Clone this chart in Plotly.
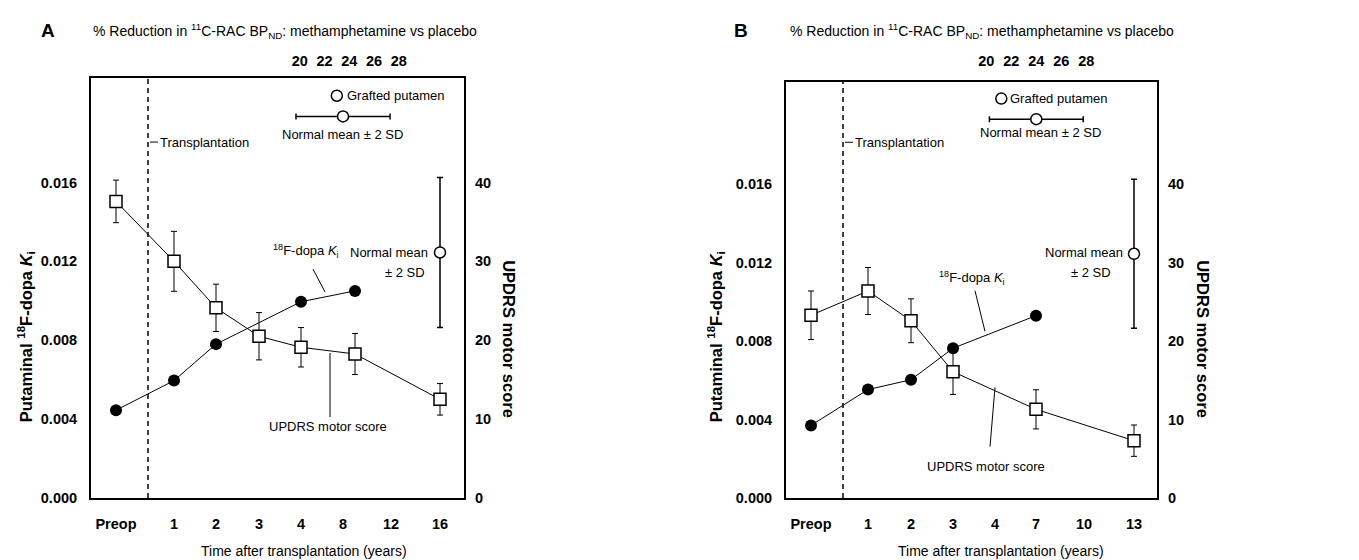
import numpy as np
import plotly.graph_objects as go

# ---------------- data ----------------
# Panel A
a_tick_labels = ["Preop", "1", "2", "3", "4", "8", "12", "16"]
a_tick_years = [-1, 1, 2, 3, 4, 8, 12, 16]
a_ki_years = [-1, 1, 2, 4, 9]
a_ki = [0.00445, 0.00595, 0.0078, 0.00995, 0.0105]
a_updrs_years = [-1, 1, 2, 3, 4, 9, 16]
a_updrs = [37.6, 30.0, 24.1, 20.5, 19.1, 18.25, 12.5]
a_updrs_err = [2.7, 3.8, 3.0, 3.0, 2.5, 2.6, 2.0]
a_normal_ki_year = 16
a_normal_ki = 0.01245
a_normal_ki_err = 0.0038
a_grafted_rac = 23.0
a_normal_rac = 23.5
a_normal_rac_err = 3.8

# Panel B
b_tick_labels = ["Preop", "1", "2", "3", "4", "7", "10", "13"]
b_tick_years = [-1, 1, 2, 3, 4, 7, 10, 13]
b_ki_years = [-1, 1, 2, 3, 7]
b_ki = [0.0037, 0.00553, 0.00603, 0.00764, 0.0093]
b_updrs_years = [-1, 1, 2, 3, 7, 13]
b_updrs = [23.3, 26.4, 22.6, 16.1, 11.3, 7.3]
b_updrs_err = [3.1, 3.0, 2.8, 2.9, 2.5, 2.0]
b_normal_ki_year = 13
b_normal_ki = 0.01246
b_normal_ki_err = 0.0038
b_grafted_rac = 21.2
b_normal_rac = 24.0
b_normal_rac_err = 3.75

rac_ticks = [20, 22, 24, 26, 28]

# ---------------- layout constants ----------------
W, H = 1359, 560
FONT = "Liberation Sans, Arial, Helvetica, sans-serif"

panels = [
    dict(key="A", box=(83, 456, 71, 497), slots=[25, 83, 125, 168, 210, 252, 300, 349],
         tick_labels=a_tick_labels, tick_years=a_tick_years,
         ki_years=a_ki_years, ki=a_ki, up_years=a_updrs_years, up=a_updrs, up_err=a_updrs_err,
         nk_year=a_normal_ki_year, nk=a_normal_ki, nk_err=a_normal_ki_err,
         graft=a_grafted_rac, nr=a_normal_rac, nr_err=a_normal_rac_err,
         rac_px=(291.7, 12.375), left_max=0.0213, transplant=57,
         letter_x=40, title_x=83, ylab_x=18, y2lab_x=501, xlab_x=296,
         ann=dict(trans_y=0.01805, graft=(254, 0.0204), normlab=(251, 0.01845),
                  kilab=(215, 0.0125), kiline=((222, 0.0116), (234, 0.01045)),
                  nm1=(339, 0.01245), nm2=(336, 0.01145),
                  uplab=(237, 0.0036), upline=((239, 0.00735), (239, 0.0041)))),
    dict(key="B", box=(778, 1149, 75, 497), slots=[25, 82, 125, 167, 209, 250, 298, 348],
         tick_labels=b_tick_labels, tick_years=b_tick_years,
         ki_years=b_ki_years, ki=b_ki, up_years=b_updrs_years, up=b_updrs, up_err=b_updrs_err,
         nk_year=b_normal_ki_year, nk=b_normal_ki, nk_err=b_normal_ki_err,
         graft=b_grafted_rac, nr=b_normal_rac, nr_err=b_normal_rac_err,
         rac_px=(978.3, 12.5), left_max=0.02123, transplant=57,
         letter_x=733, title_x=780, ylab_x=708, y2lab_x=1195, xlab_x=993,
         ann=dict(trans_y=0.01815, graft=(222, 0.02038), normlab=(254, 0.01865),
                  kilab=(186, 0.01122), kiline=((189, 0.01057), (199, 0.0085)),
                  nm1=(339, 0.01253), nm2=(327, 0.01152),
                  uplab=(200, 0.00161), upline=((209, 0.00564), (204, 0.00262)))),
]

fig = go.Figure()
layout = dict(width=W, height=H, margin=dict(l=0, r=0, t=0, b=0),
              paper_bgcolor="white", plot_bgcolor="white", showlegend=False)
shapes, annotations = [], []


def px(x):
    return x / W


def py(y):
    return 1 - y / H


tickfont = dict(family=FONT, size=14.5, color="black", weight="bold")

for i, p in enumerate(panels):
    n = i * 2
    xb, xt = f"x{n + 1 if n else ''}", f"x{n + 2}"
    yl, yr = f"y{n + 1 if n else ''}", f"y{n + 2}"
    xbn, xtn = "xaxis" + (str(n + 1) if n else ""), f"xaxis{n + 2}"
    yln, yrn = "yaxis" + (str(n + 1) if n else ""), f"yaxis{n + 2}"
    x0, x1, ytop, ybot = p["box"]
    width = x1 - x0
    slots = p["slots"]

    def pos(years):
        return np.interp(years, p["tick_years"], slots)

    xdom = [px(x0), px(x1)]
    ydom = [py(ybot), py(ytop)]
    left_max = p["left_max"]
    right_max = left_max * 2500

    layout[xbn] = dict(domain=xdom, range=[0, width], anchor=yl, showline=True, linewidth=2,
                       linecolor="black", mirror=True, ticks="", showgrid=False, zeroline=False,
                       tickvals=slots, ticktext=p["tick_labels"], ticklabelstandoff=12,
                       tickfont=tickfont)
    layout[yln] = dict(domain=ydom, range=[0, left_max], anchor=xb, showline=True, linewidth=2,
                       linecolor="black", ticks="", showgrid=False, zeroline=False,
                       tickvals=[0, 0.004, 0.008, 0.012, 0.016], tickformat=".3f",
                       ticklabelstandoff=9, tickfont=tickfont)
    layout[yrn] = dict(domain=ydom, range=[0, right_max], anchor=xb, overlaying=yl, side="right",
                       showline=True, linewidth=2, linecolor="black", ticks="", showgrid=False,
                       zeroline=False, tickvals=[0, 10, 20, 30, 40], ticklabelstandoff=6,
                       tickfont=tickfont)
    c, k = p["rac_px"]
    layout[xtn] = dict(range=[20 + (x0 - c) / k, 20 + (x1 - c) / k], overlaying=xb,
                       anchor="free", position=py(62), side="top", showline=False, ticks="",
                       showgrid=False, zeroline=False, tickvals=rac_ticks, tickfont=tickfont)

    # UPDRS squares (right axis)
    fig.add_trace(go.Scatter(
        x=pos(p["up_years"]), y=p["up"], xaxis=xb, yaxis=yr, mode="lines+markers",
        line=dict(color="black", width=1),
        marker=dict(symbol="square", size=12, color="white", line=dict(color="black", width=1.5)),
        error_y=dict(type="data", array=p["up_err"], color="black", thickness=1, width=3)))
    # Ki dots (left axis)
    fig.add_trace(go.Scatter(
        x=pos(p["ki_years"]), y=p["ki"], xaxis=xb, yaxis=yl, mode="lines+markers",
        line=dict(color="black", width=1),
        marker=dict(symbol="circle", size=12, color="black")))
    # Normal mean Ki
    fig.add_trace(go.Scatter(
        x=pos([p["nk_year"]]), y=[p["nk"]], xaxis=xb, yaxis=yl, mode="markers",
        marker=dict(symbol="circle", size=11, color="white", line=dict(color="black", width=1.5)),
        error_y=dict(type="data", array=[p["nk_err"]], color="black", thickness=1.5, width=3)))
    # top axis: grafted putamen and normal mean
    a = p["ann"]
    fig.add_trace(go.Scatter(
        x=[p["graft"]], y=[a["graft"][1]], xaxis=xt, yaxis=yl, mode="markers",
        marker=dict(symbol="circle", size=11, color="white", line=dict(color="black", width=1.5))))
    fig.add_trace(go.Scatter(
        x=[p["nr"]], y=[a["graft"][1] - 0.00105], xaxis=xt, yaxis=yl, mode="markers",
        marker=dict(symbol="circle", size=11, color="white", line=dict(color="black", width=1.5)),
        error_x=dict(type="data", array=[p["nr_err"]], color="black", thickness=1.5, width=3)))

    # transplantation dashed line
    shapes.append(dict(type="line", xref=xb, yref=yl + " domain", x0=p["transplant"],
                       x1=p["transplant"], y0=0, y1=1,
                       line=dict(color="black", width=1.5, dash="5px,4px")))
    shapes.append(dict(type="line", xref=xb, yref=yl, x0=p["transplant"] + 2,
                       x1=p["transplant"] + 10, y0=a["trans_y"], y1=a["trans_y"],
                       line=dict(color="black", width=1)))
    for (lx0, ly0), (lx1, ly1) in [a["kiline"], a["upline"]]:
        shapes.append(dict(type="line", xref=xb, yref=yl, x0=lx0, y0=ly0, x1=lx1, y1=ly1,
                           line=dict(color="black", width=1)))

    tf = dict(family=FONT, size=13, color="black")
    annotations += [
        dict(text="Transplantation", x=p["transplant"] + 10, y=a["trans_y"], xref=xb, yref=yl,
             xanchor="left", yanchor="middle", showarrow=False, font=tf),
        dict(text="Grafted putamen", x=a["graft"][0], y=a["graft"][1], xref=xb, yref=yl,
             xanchor="left", yanchor="middle", showarrow=False, font=tf),
        dict(text="Normal mean ± 2 SD", x=a["normlab"][0], y=a["normlab"][1], xref=xb, yref=yl,
             xanchor="center", yanchor="middle", showarrow=False, font=tf),
        dict(text="<sup>18</sup>F-dopa <i>K</i><sub>i</sub>", x=a["kilab"][0], y=a["kilab"][1],
             xref=xb, yref=yl, xanchor="center", yanchor="middle", showarrow=False, font=tf),
        dict(text="Normal mean", x=a["nm1"][0], y=a["nm1"][1], xref=xb, yref=yl,
             xanchor="right", yanchor="middle", showarrow=False, font=tf),
        dict(text="± 2 SD", x=a["nm2"][0], y=a["nm2"][1], xref=xb, yref=yl,
             xanchor="right", yanchor="middle", showarrow=False, font=tf),
        dict(text="UPDRS motor score", x=a["uplab"][0], y=a["uplab"][1], xref=xb, yref=yl,
             xanchor="center", yanchor="middle", showarrow=False, font=tf),
        # panel letter and top title
        dict(text="<b>" + p["key"] + "</b>", x=px(p["letter_x"]), y=py(23), xref="paper",
             yref="paper", xanchor="center", yanchor="middle", showarrow=False,
             font=dict(family=FONT, size=19, color="black")),
        dict(text="% Reduction in <sup>11</sup>C-RAC BP<sub>ND</sub>: methamphetamine vs placebo",
             x=px(p["title_x"]), y=py(23), xref="paper", yref="paper", xanchor="left",
             yanchor="middle", showarrow=False, font=dict(family=FONT, size=14, color="black")),
        # axis titles
        dict(text="<b>Putaminal <sup>18</sup>F-dopa <i>K</i><sub>i</sub></b>", x=px(p["ylab_x"]),
             y=py(334), xref="paper", yref="paper", xanchor="center", yanchor="middle",
             textangle=-90, showarrow=False, font=dict(family=FONT, size=16.5, color="black")),
        dict(text="<b>UPDRS motor score</b>", x=px(p["y2lab_x"]), y=py(336), xref="paper",
             yref="paper", xanchor="center", yanchor="middle", textangle=90, showarrow=False,
             font=dict(family=FONT, size=16.5, color="black")),
        dict(text="Time after transplantation (years)", x=px(p["xlab_x"]), y=py(551),
             xref="paper", yref="paper", xanchor="center", yanchor="middle", showarrow=False,
             font=dict(family=FONT, size=14, color="black")),
    ]

layout["shapes"] = shapes
layout["annotations"] = annotations
fig.update_layout(**layout)
fig.write_html("out.html")
